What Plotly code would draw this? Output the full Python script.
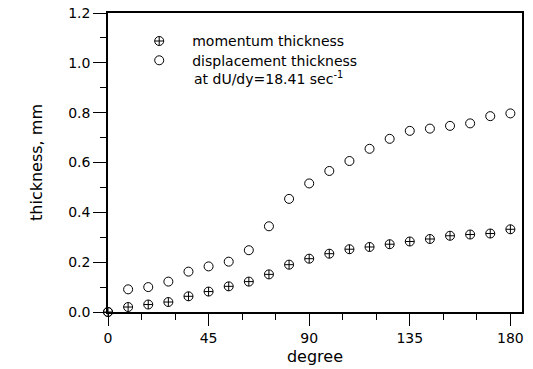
import plotly.graph_objects as go

degree = [0, 9, 18, 27, 36, 45, 54, 63, 72, 81, 90, 99, 108, 117, 126, 135, 144, 153, 162, 171, 180]
momentum = [0.0, 0.02, 0.03, 0.04, 0.063, 0.082, 0.103, 0.122, 0.151, 0.19, 0.214, 0.234, 0.252, 0.261, 0.272, 0.283, 0.293, 0.306, 0.311, 0.315, 0.332]
displacement = [0.0, 0.091, 0.10, 0.122, 0.162, 0.183, 0.202, 0.248, 0.344, 0.454, 0.516, 0.566, 0.606, 0.655, 0.695, 0.727, 0.736, 0.747, 0.757, 0.786, 0.797]

x_ticks = [0, 45, 90, 135, 180]
y_ticks = [0.0, 0.2, 0.4, 0.6, 0.8, 1.0, 1.2]
y_ticklabels = ["0.0", "0.2", "0.4", "0.6", "0.8", "1.0", "1.2"]

FONT = "DejaVu Sans"

fig = go.Figure()
fig.add_trace(go.Scatter(
    x=degree, y=momentum, mode="markers", name="momentum thickness",
    marker=dict(symbol="circle-cross-open", size=9, color="black", line=dict(width=1, color="black")),
    cliponaxis=False, legend="legend",
))
fig.add_trace(go.Scatter(
    x=degree, y=displacement, mode="markers", name="displacement thickness",
    marker=dict(symbol="circle-open", size=9, color="black", line=dict(width=1, color="black")),
    cliponaxis=False, legend="legend2",
))

fig.add_annotation(
    x=0.203, y=0.784, xref="paper", yref="paper", xanchor="left", yanchor="middle",
    text="at dU/dy=18.41 sec<sup>-1</sup>", showarrow=False,
    font=dict(family=FONT, size=14, color="black"),
)

leg_common = dict(
    xanchor="left", yanchor="middle",
    bgcolor="rgba(0,0,0,0)", borderwidth=0,
    font=dict(family=FONT, size=14, color="black"),
    itemwidth=56, tracegroupgap=0,
)

fig.update_layout(
    width=533, height=369,
    margin=dict(l=108, r=11, t=13, b=57),
    paper_bgcolor="white", plot_bgcolor="white",
    font=dict(family=FONT, size=14, color="black"),
    showlegend=True,
    legend=dict(x=0.044, y=0.905, **leg_common),
    legend2=dict(x=0.044, y=0.8405, **leg_common),
    xaxis=dict(
        range=[0, 185.2], tickmode="array", tickvals=x_ticks,
        ticks="outside", ticklen=12, tickwidth=1.2, tickcolor="black",
        minor=dict(dtick=15, tick0=0, ticks="outside", ticklen=6, tickwidth=1.2, tickcolor="black", showgrid=False),
        showline=True, linecolor="black", linewidth=1.5, mirror=True,
        showgrid=False, zeroline=False, automargin=False,
        title=dict(text="degree", font=dict(family=FONT, size=16), standoff=6),
        tickfont=dict(family=FONT, size=14),
    ),
    yaxis=dict(
        range=[0, 1.2], tickmode="array", tickvals=y_ticks, ticktext=y_ticklabels,
        ticks="outside", ticklen=13, tickwidth=1.2, tickcolor="black",
        minor=dict(dtick=0.1, tick0=0, ticks="outside", ticklen=6, tickwidth=1.2, tickcolor="black", showgrid=False),
        showline=True, linecolor="black", linewidth=1.5, mirror=True,
        showgrid=False, zeroline=False, automargin=False,
        title=dict(text="thickness, mm", font=dict(family=FONT, size=16), standoff=22),
        tickfont=dict(family=FONT, size=14),
    ),
)

fig.write_html("out.html")
